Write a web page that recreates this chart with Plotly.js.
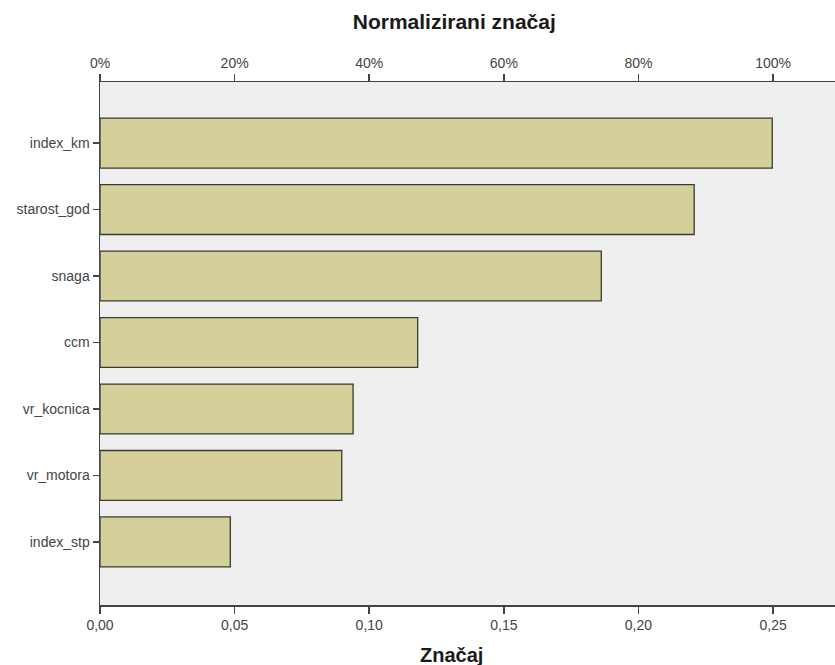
<!DOCTYPE html>
<html>
<head>
<meta charset="utf-8">
<script src="https://cdn.plot.ly/plotly-3.0.1.min.js"></script>
<style>body{margin:0;padding:0;background:#fff}#chart{width:835px;height:665px}</style>
</head>
<body>
<div id="chart"></div>
<script>
const categories = ["index_km","starost_god","snaga","ccm","vr_kocnica","vr_motora","index_stp"];
const importance = [0.2497,0.2207,0.1862,0.1180,0.0940,0.0898,0.0484];
const bottomTicks = [0,0.05,0.10,0.15,0.20,0.25];
const topTicks = [0,20,40,60,80,100];
const topTickLabels = ["0%","20%","40%","60%","80%","100%"];

const xMax = 0.2730;
const fam = "Liberation Sans, Arial, sans-serif";
const font = {family:fam, size:14, color:"#444"};

const traces = [
  {type:"bar", orientation:"h", y:categories, x:importance, width:0.75,
   marker:{color:"#d5cf9b", line:{color:"#3b3b30", width:1.3}}, hoverinfo:"x+y"},
  {type:"scatter", mode:"markers", x:[0], y:[categories[0]], xaxis:"x2", yaxis:"y",
   marker:{opacity:0}, hoverinfo:"skip", showlegend:false}
];

const layout = {
  width:835, height:665,
  margin:{l:100, r:0, t:82, b:60},
  paper_bgcolor:"#ffffff", plot_bgcolor:"#efefef",
  separators:", ",
  showlegend:false,
  font:font,
  title:{text:"Normalizirani značaj", font:{family:fam, size:21, color:"#1a1a1a", weight:"bold"}, x:0.482, xref:"paper", y:0.967, yanchor:"middle", xanchor:"center"},
  annotations:[{text:"<b>Značaj</b>", xref:"paper", yref:"paper", x:0.478, y:-0.095, xanchor:"center", yanchor:"middle", showarrow:false,
    font:{family:fam, size:20, color:"#1a1a1a"}}],
  xaxis:{range:[0,xMax], tickvals:bottomTicks, tickformat:".2f", ticks:"outside", ticklen:7, tickwidth:1.5, tickcolor:"#444",
    showline:true, linecolor:"#444", linewidth:1.5, showgrid:false, zeroline:false, tickfont:font},
  xaxis2:{overlaying:"x", side:"top", range:[0, xMax/0.25*100], tickvals:topTicks, ticktext:topTickLabels, ticks:"outside", ticklen:7, tickwidth:1.5, tickcolor:"#444",
    showline:true, linecolor:"#444", linewidth:1.5, showgrid:false, zeroline:false, tickfont:font},
  yaxis:{type:"category", categoryorder:"array", categoryarray:categories, range:[6.95,-0.92],
    ticks:"outside", ticklen:6, tickwidth:1.5, tickcolor:"#444", showline:true, linecolor:"#444", linewidth:1.5,
    showgrid:false, zeroline:false, tickfont:font, ticklabelstandoff:0}
};

Plotly.newPlot("chart", traces, layout, {displayModeBar:false, staticPlot:true});
</script>
</body>
</html>
